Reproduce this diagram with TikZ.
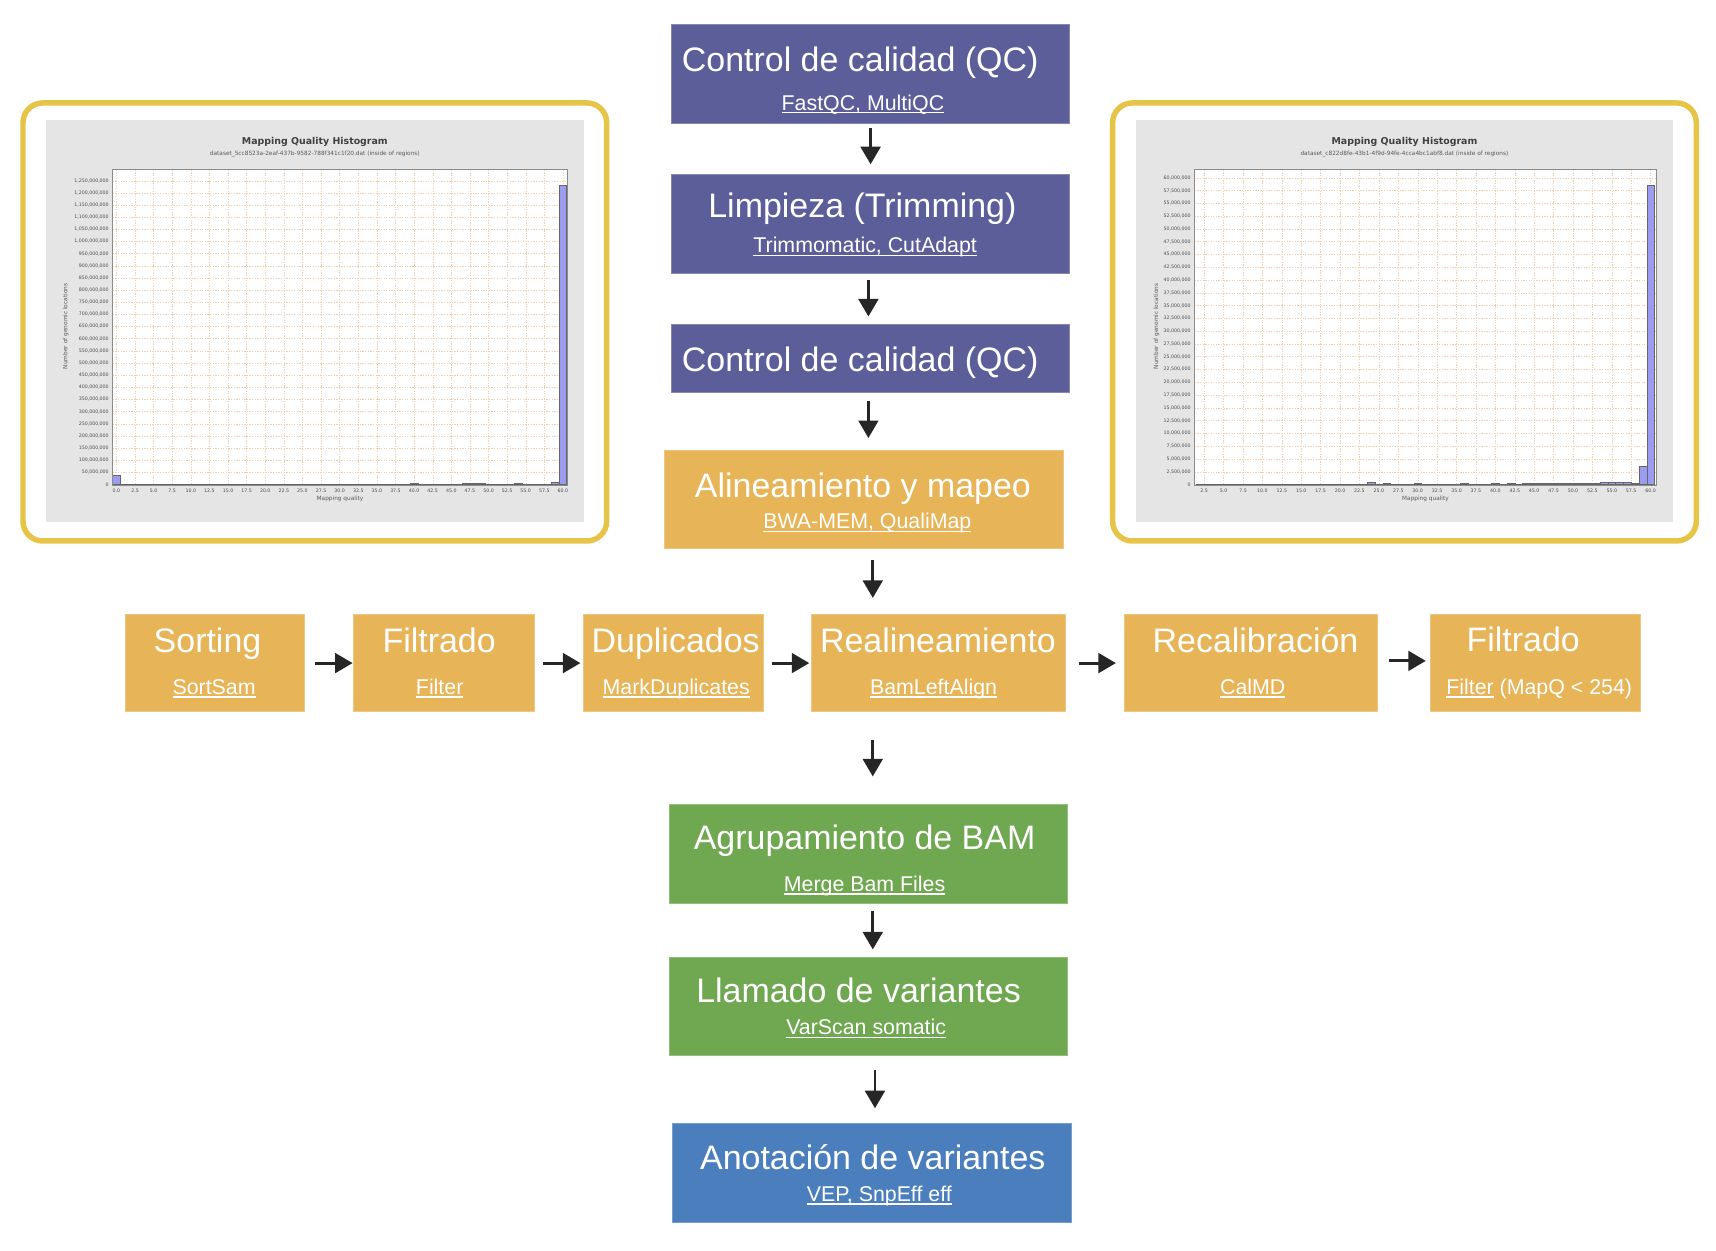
\documentclass[tikz,border=0pt]{standalone}
\usepackage{fontspec}
\setmainfont{Liberation Sans}
\newfontfamily\chartfont{DejaVu Sans}
\usetikzlibrary{positioning,arrows.meta}

\definecolor{qcpurple}{RGB}{92,94,153}
\definecolor{maporange}{RGB}{231,180,88}
\definecolor{callgreen}{RGB}{112,168,82}
\definecolor{annotblue}{RGB}{74,126,188}
\definecolor{frameyellow}{RGB}{230,196,72}
\definecolor{chartgray}{RGB}{229,229,229}
\definecolor{gridorange}{RGB}{240,208,176}
\definecolor{barblue}{RGB}{155,155,240}

\newcommand\tool[1]{\setbox0=\hbox{#1}\rlap{\rule[-3pt]{\wd0}{1.1pt}}\box0\relax}
\pgfkeys{/pgf/number format/assume math mode=true}

\tikzset{
  stagebox/.style={rectangle, fill=#1, draw=#1!75!white, line width=0.8pt, minimum width=364pt, minimum height=91pt, inner sep=0pt, outer sep=0pt},
  rowbox/.style={stagebox=maporange, minimum height=89pt, minimum width=#1},
  ttl/.style={text=white, font=\fontsize{31}{36}\selectfont, text height=22pt, text depth=0pt, inner sep=0pt},
  subttl/.style={text=white, font=\fontsize{19.5}{23}\selectfont, text height=14pt, text depth=0pt, inner sep=0pt},
  arr/.style={draw=black!85, line width=2.6pt, -{Triangle[width=18pt,length=16pt]}},
  histframe/.style={draw=frameyellow, line width=5pt, rounded corners=18pt},
  chartgrid/.style={draw=gridorange, line width=0.35pt, dash pattern=on 1.2pt off 1.2pt},
  histbar/.style={fill=barblue, draw=black!60, line width=0.45pt},
  ticklabel/.style={font=\chartfont\fontsize{4.3}{5}\selectfont, text=black!70, inner sep=0.5pt},
  charttitle/.style={font=\chartfont\bfseries\fontsize{8.6}{10}\selectfont, text=black!75, inner sep=0pt},
  chartsub/.style={font=\chartfont\fontsize{5.3}{6}\selectfont, text=black!65, inner sep=0pt},
}

\begin{document}
\begin{tikzpicture}[x=1pt,y=1pt]
\useasboundingbox (0,0) rectangle (1567,-1141.5);

\node[stagebox=qcpurple] (qc1) at (795,-67.5) {};
\node[ttl] (qc1t) at ([xshift=-9.5pt,yshift=-32.5pt]qc1.north) {Control de calidad (QC)};
\node[subttl] (qc1s) at ([xshift=-7pt,yshift=-71.5pt]qc1.north) {\tool{FastQC, MultiQC}};

\node[stagebox=qcpurple, below=46pt of qc1] (trim) {};
\node[ttl] (trimt) at ([xshift=-7.5pt,yshift=-28.5pt]trim.north) {Limpieza (Trimming)};
\node[subttl] (trims) at ([xshift=-5pt,yshift=-64.5pt]trim.north) {\tool{Trimmomatic, CutAdapt}};

\node[stagebox=qcpurple, minimum height=62pt, below=46pt of trim] (qc2) {};
\node[ttl] (qc2t) at ([xshift=-9.5pt,yshift=-1pt]qc2) {Control de calidad (QC)};

\node[stagebox=maporange, minimum height=90pt, below=53pt of qc2, xshift=-6pt] (align) {};
\node[ttl] (alignt) at ([xshift=-1pt,yshift=-32pt]align.north) {Alineamiento y mapeo};
\node[subttl] (aligns) at ([xshift=3pt,yshift=-65pt]align.north) {\tool{BWA-MEM, QualiMap}};

\node[rowbox=232pt, below=60pt of align, xshift=68pt] (realign) {};
\node[rowbox=164pt, left=44pt of realign] (dup) {};
\node[rowbox=165pt, left=45pt of dup] (filt) {};
\node[rowbox=163pt, left=45pt of filt] (sort) {};
\node[rowbox=231pt, right=54pt of realign] (recal) {};
\node[rowbox=192pt, right=48pt of recal] (mapq) {};

\node[ttl] (sortt) at ([xshift=-7pt,yshift=-24pt]sort.north) {Sorting};
\node[subttl] (sorts) at ([xshift=-1pt,yshift=-66pt]sort.north) {\tool{SortSam}};
\node[ttl] (filtt) at ([xshift=-4.5pt,yshift=-24pt]filt.north) {Filtrado};
\node[subttl] (filts) at ([xshift=-4pt,yshift=-66pt]filt.north) {\tool{Filter}};
\node[ttl] (dupt) at ([xshift=2pt,yshift=-24pt]dup.north) {Duplicados};
\node[subttl] (dups) at ([xshift=2.5pt,yshift=-66pt]dup.north) {\tool{MarkDuplicates}};
\node[ttl] (realignt) at ([xshift=-0.5pt,yshift=-24pt]realign.north) {Realineamiento};
\node[subttl] (realigns) at ([xshift=-4.5pt,yshift=-66pt]realign.north) {\tool{BamLeftAlign}};
\node[ttl] (recalt) at ([xshift=4pt,yshift=-24pt]recal.north) {Recalibración};
\node[subttl] (recals) at ([xshift=1.5pt,yshift=-66pt]recal.north) {\tool{CalMD}};
\node[ttl] (mapqt) at ([xshift=-11pt,yshift=-23pt]mapq.north) {Filtrado};
\node[subttl] (mapqs) at ([xshift=3.5pt,yshift=-66pt]mapq.north) {\tool{Filter} (MapQ < 254)};

\node[stagebox=callgreen, minimum height=90pt, below=85pt of realign, xshift=-64pt] (merge) {};
\node[ttl] (merget) at ([xshift=-3.5pt,yshift=-30pt]merge.north) {Agrupamiento de BAM};
\node[subttl] (merges) at ([xshift=-3.5pt,yshift=-72pt]merge.north) {\tool{Merge Bam Files}};

\node[stagebox=callgreen, minimum height=90pt, below=49pt of merge] (call) {};
\node[ttl] (callt) at ([xshift=-9pt,yshift=-30pt]call.north) {Llamado de variantes};
\node[subttl] (calls) at ([xshift=-2pt,yshift=-64pt]call.north) {\tool{VarScan somatic}};

\node[stagebox=annotblue, minimum height=90pt, below=62pt of call, xshift=3pt] (annot) {};
\node[ttl] (annott) at ([xshift=1pt,yshift=-30.5pt]annot.north) {Anotación de variantes};
\node[subttl] (annots) at ([xshift=7pt,yshift=-64pt]annot.north) {\tool{VEP, SnpEff eff}};

\draw[arr, shorten <=4pt, shorten >=9pt] (qc1) -- (trim);
\draw[arr, shorten <=6pt, shorten >=7pt] ([xshift=-2pt]trim.south) -- ([xshift=-2pt]qc2.north);
\draw[arr, shorten <=8pt, shorten >=11pt] ([xshift=-2pt]qc2.south) -- ([xshift=-2pt]qc2.south |- align.north);
\draw[arr, shorten <=10pt, shorten >=15pt] ([xshift=8pt]align.south) -- ([xshift=8pt]align.south |- realign.north);
\draw[arr, shorten <=10pt, shorten >=1pt] (sort) -- (filt);
\draw[arr, shorten <=8pt, shorten >=3pt] (filt) -- (dup);
\draw[arr, shorten <=8pt, shorten >=2pt] (dup) -- (realign);
\draw[arr, shorten <=12pt, shorten >=8pt] (realign) -- (recal);
\draw[arr, shorten <=10pt, shorten >=4pt] ([yshift=2pt]recal.east) -- ([yshift=2pt]mapq.west);
\draw[arr, shorten <=26pt, shorten >=26pt] ([xshift=4pt]merge.north |- realign.south) -- ([xshift=4pt]merge.north);
\draw[arr, shorten <=7pt, shorten >=7pt] ([xshift=4pt]merge.south) -- ([xshift=4pt]call.north);
\draw[arr, shorten <=13pt, shorten >=14pt] ([xshift=6pt]call.south) -- ([xshift=6pt]call.south |- annot.north);

\draw[histframe] (21,-94) rectangle (554,-494);
\fill[chartgray] (42,-110) rectangle (533,-477);
\node[charttitle] (lhead) at (287.5,-130) {Mapping Quality Histogram};
\node[chartsub] (lfile) at (287.5,-141) {dataset\_5cc8523a-2eaf-437b-9582-788f341c1f20.dat (inside of regions)};
\fill[white] (103,-155) rectangle (518,-443);
\foreach \i in {0,...,25}
  \draw[chartgrid] (103,{-442.4+11.096*\i}) -- (518,{-442.4+11.096*\i});
\foreach \i in {0,...,24}
  \draw[chartgrid] ({106.3+16.99*\i},-155) -- ({106.3+16.99*\i},-443);
\foreach \u in {1,...,59}
  \draw[histbar] ({106.3+6.795*(\u-0.5)},-442.4) rectangle ({106.3+6.795*(\u+0.5)},-441.8);
\foreach \u/\v in {0/38,12/3,24/2.5,26/2.5,30/3,36/3,40/7,42/3,44/3,45/3,46/3,47/4,48/4,49/4,50/3,51/3,52/3,53/3,54/7,55/3,56/3,57/3,58/3,59/10,60/1232}
  \draw[histbar] ({106.3+6.795*(\u-0.5)},-442.4) rectangle ({106.3+6.795*(\u+0.5)},{-442.4+0.2219*\v});
\draw[black!45, line width=0.6pt] (103,-155) rectangle (518,-443);
\node[ticklabel, anchor=east] (ly0) at (100,-442.4) {0};
\foreach \i in {1,...,25}{
  \pgfmathtruncatemacro\m{50*\i}
  \node[ticklabel, anchor=east] (ly\i) at (100,{-442.4+11.096*\i}) {\pgfmathprintnumber[fixed,precision=0,1000 sep={,}]{\m},000,000};
}
\foreach \i in {0,...,24}{
  \pgfmathsetmacro\q{2.5*\i}
  \node[ticklabel, anchor=north] (lx\i) at ({106.3+16.99*\i},-446) {\pgfmathprintnumber[fixed,fixed zerofill,precision=1]{\q}};
}
\node[chartsub] (lxlab) at (310.5,-456) {Mapping quality};
\node[chartsub, rotate=90] (lylab) at (60,-298) {Number of genomic locations};

\draw[histframe] (1016,-94) rectangle (1549,-494);
\fill[chartgray] (1037,-110) rectangle (1528,-477);
\node[charttitle] (rhead) at (1282.5,-130) {Mapping Quality Histogram};
\node[chartsub] (rfile) at (1282.5,-141) {dataset\_c822d8fe-43b1-4f9d-94fe-4cca4bc1abf8.dat (inside of regions)};
\fill[white] (1091,-155) rectangle (1512.4,-443);
\foreach \i in {0,...,24}
  \draw[chartgrid] (1091,{-442.4+11.67*\i}) -- (1512.4,{-442.4+11.67*\i});
\foreach \i in {1,...,24}
  \draw[chartgrid] ({1081.9+17.725*\i},-155) -- ({1081.9+17.725*\i},-443);
\foreach \u in {2,...,58}
  \draw[histbar] ({1081.9+7.09*(\u-0.5)},-442.4) rectangle ({1081.9+7.09*(\u+0.5)},-441.8);
\foreach \u/\v in {24/0.45,26/0.3,30/0.3,36/0.3,40/0.3,42/0.3,44/0.25,45/0.25,46/0.25,47/0.25,48/0.25,49/0.25,50/0.25,51/0.25,52/0.25,53/0.25,54/0.45,55/0.35,56/0.35,57/0.4,58/0.3,59/3.6,60/58.6}
  \draw[histbar] ({1081.9+7.09*(\u-0.5)},-442.4) rectangle ({1081.9+7.09*(\u+0.5)},{-442.4+4.668*\v});
\draw[black!45, line width=0.6pt] (1091,-155) rectangle (1512.4,-443);
\node[ticklabel, anchor=east] (ry0) at (1088,-442.4) {0};
\foreach \i in {1,...,24}{
  \edef\k{\the\numexpr2500*\i\relax}
  \node[ticklabel, anchor=east] (ry\i) at (1088,{-442.4+11.67*\i}) {\pgfmathprintnumber[fixed,precision=0,1000 sep={,}]{\k},000};
}
\foreach \i in {1,...,24}{
  \pgfmathsetmacro\q{2.5*\i}
  \node[ticklabel, anchor=north] (rx\i) at ({1081.9+17.725*\i},-446) {\pgfmathprintnumber[fixed,fixed zerofill,precision=1]{\q}};
}
\node[chartsub] (rxlab) at (1301.7,-456) {Mapping quality};
\node[chartsub, rotate=90] (rylab) at (1056,-298) {Number of genomic locations};
\end{tikzpicture}
\end{document}
